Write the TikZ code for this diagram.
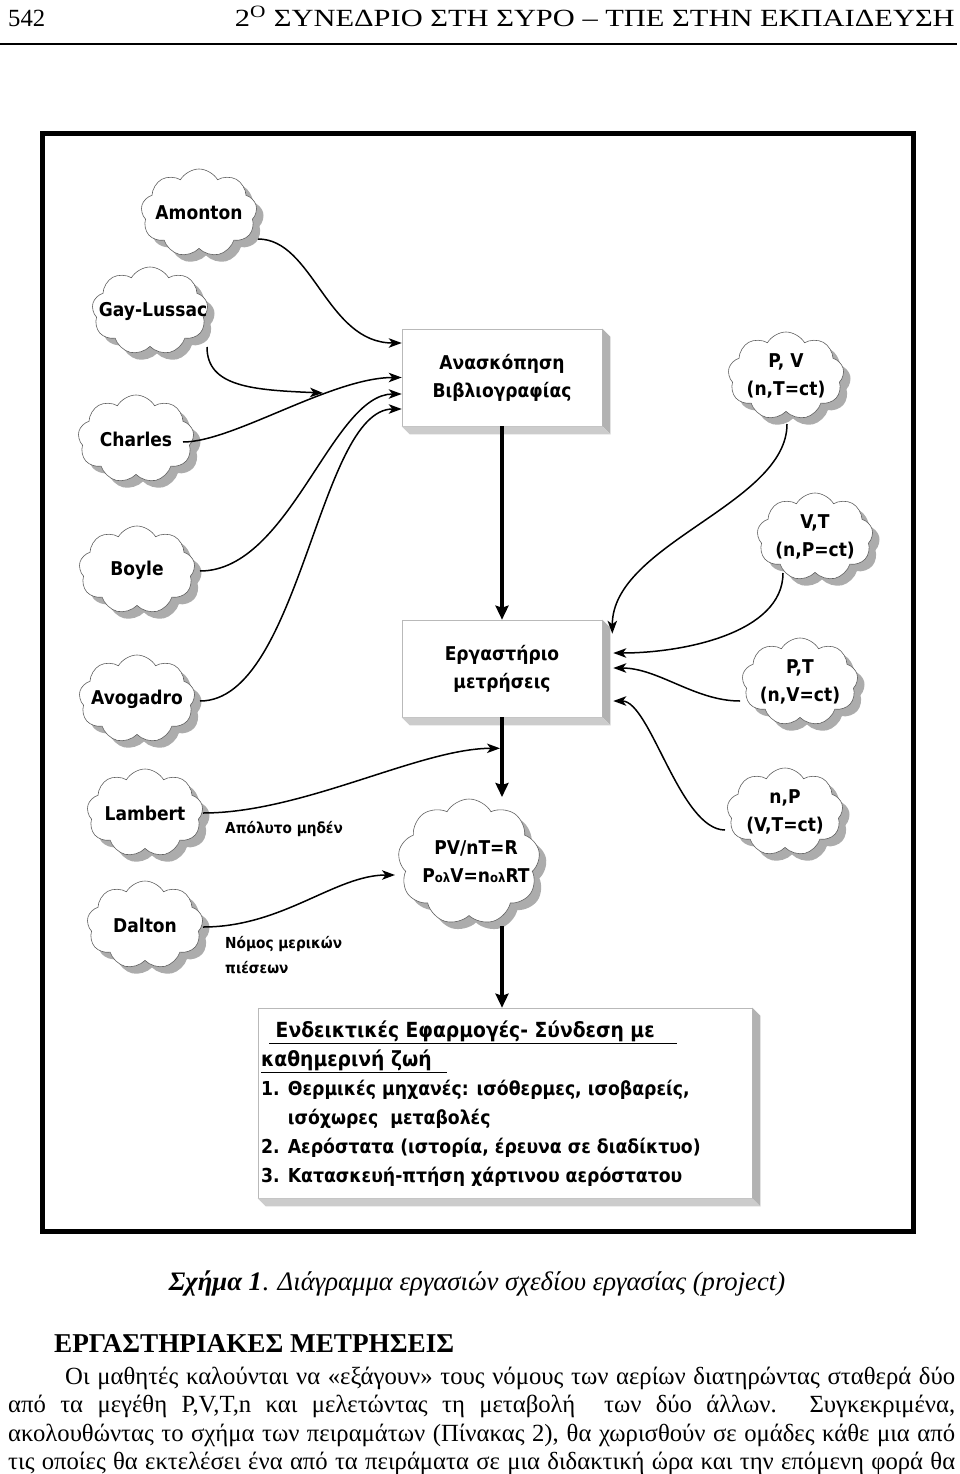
\documentclass[tikz,border=0pt]{standalone}
\usepackage{fontspec}
\setmainfont{Liberation Serif}
\newfontfamily\dvs{DejaVu Sans}[FakeStretch=0.9]
\usetikzlibrary{shapes.symbols,shadows,arrows.meta,calc}
\begin{document}
\begin{tikzpicture}[x=1pt,y=-1pt,
  cloudnode/.style={cloud, cloud puffs=9, cloud puff arc=120, aspect=1.3,
    draw=gray!75!black, line width=0.6pt, fill=white, inner sep=0pt,
    minimum width=116pt, minimum height=88pt,
    drop shadow={shadow xshift=7pt, shadow yshift=-7pt, fill=gray!65, opacity=1}},
  cloudtext/.style={font=\dvs\bfseries\fontsize{19}{28}\selectfont, align=center, inner sep=0pt, text=black},
  boxnode/.style={rectangle, draw=gray!55, line width=0.6pt, fill=white,
    minimum width=200pt, minimum height=97pt, inner sep=0pt,
    font=\dvs\bfseries\fontsize{19}{28}\selectfont, align=center},
  bevelR/.style={fill=gray!60},
  bevelB/.style={fill=gray!40},
  conn/.style={line width=1.5pt, -{Stealth[length=13pt,width=9.5pt,inset=3.5pt]}},
  bigconn/.style={line width=4pt, -{Stealth[length=14pt,width=13pt,inset=2pt]}},
  smalllabel/.style={font=\dvs\bfseries\fontsize{15.2}{25}\selectfont, align=left, inner sep=0pt, anchor=west},
  serif/.style={font=\fontsize{24.7}{28.5}\selectfont, inner sep=0pt}
]
\useasboundingbox (0,0) rectangle (960,1474);
\fill[white] (0,0) rectangle (960,1474);

% header
\node[serif, anchor=base west] (pnum) at (8,27) {542};
\node[serif, anchor=base east] (htitle) at (955,27) {\scalebox{1.233}[1]{2\textsuperscript{O} ΣΥΝΕΔΡΙΟ ΣΤΗ ΣΥΡΟ – ΤΠΕ ΣΤΗΝ ΕΚΠΑΙΔΕΥΣΗ}};
\draw[line width=1.6pt] (0,44) -- (957,44);

% frame
\draw[line width=5pt] (42,134) rectangle (913,1231);

% clouds left
\node[cloudnode, label={[cloudtext]center:Amonton}] (amonton) at (199,213) {};
\node[cloudnode, label={[cloudtext, xshift=3pt]center:Gay-Lussac}] (gaylussac) at (150,311) {};
\node[cloudnode, label={[cloudtext]center:Charles}] (charles) at (136,439) {};
\node[cloudnode, label={[cloudtext]center:Boyle}] (boyle) at (137,570) {};
\node[cloudnode, label={[cloudtext]center:Avogadro}] (avogadro) at (137,699) {};
\node[cloudnode, label={[cloudtext]center:Lambert}] (lambert) at (145,813) {};
\node[cloudnode, label={[cloudtext]center:Dalton}] (dalton) at (145,925) {};

% clouds right
\node[cloudnode, label={[cloudtext]center:{P, V\\(n,T=ct)}}] (pv) at (786,376) {};
\node[cloudnode, label={[cloudtext]center:{V,T\\(n,P=ct)}}] (vt) at (815,537) {};
\node[cloudnode, label={[cloudtext]center:{P,T\\(n,V=ct)}}] (pt) at (800,682) {};
\node[cloudnode, label={[cloudtext]center:{n,P\\(V,T=ct)}}] (np) at (785,812) {};

% central cloud
\node[cloudnode, minimum width=142pt, minimum height=126pt,
  label={[cloudtext, xshift=7pt]center:{PV/nT=R\\P{\fontsize{13}{13}\selectfont ολ}V=n{\fontsize{13}{13}\selectfont ολ}RT}}] (gaslaw) at (469,862) {};

% boxes
\node[boxnode] (review) at (502,377.5) {Ανασκόπηση\\Βιβλιογραφίας};
\fill[bevelR] (review.north east) -- ($(review.north east)+(8,8)$) -- ($(review.south east)+(8,8)$) -- (review.south east) -- cycle;
\fill[bevelB] (review.south west) -- (review.south east) -- ($(review.south east)+(8,8)$) -- ($(review.south west)+(8,8)$) -- cycle;

\node[boxnode] (lab) at (502,668.5) {Εργαστήριο\\μετρήσεις};
\fill[bevelR] (lab.north east) -- ($(lab.north east)+(8,8)$) -- ($(lab.south east)+(8,8)$) -- (lab.south east) -- cycle;
\fill[bevelB] (lab.south west) -- (lab.south east) -- ($(lab.south east)+(8,8)$) -- ($(lab.south west)+(8,8)$) -- cycle;

\node[boxnode, minimum width=494pt, minimum height=190pt] (apps) at (505,1103) {};
\fill[bevelR] (apps.north east) -- ($(apps.north east)+(8,8)$) -- ($(apps.south east)+(8,8)$) -- (apps.south east) -- cycle;
\fill[bevelB] (apps.south west) -- (apps.south east) -- ($(apps.south east)+(8,8)$) -- ($(apps.south west)+(8,8)$) -- cycle;
\node[anchor=north west, inner sep=0pt, align=left, font=\dvs\bfseries\fontsize{19.2}{29}\selectfont] (appstext) at (261,1021)
 {{\fontsize{20.8}{29}\selectfont\hspace*{8pt}\underline{\ Ενδεικτικές Εφαρμογές- Σύνδεση με\hspace{22pt}}}\\
  {\fontsize{20.8}{29}\selectfont\underline{καθημερινή ζωή\hspace{15pt}}}\\
  1. Θερμικές μηχανές: ισόθερμες, ισοβαρείς,\\
  \phantom{1. }ισόχωρες\ \ μεταβολές\\
  2. Αερόστατα (ιστορία, έρευνα σε διαδίκτυο)\\
  3. Κατασκευή-πτήση χάρτινου αερόστατου};

% small labels
\node[smalllabel] (lbl1) at (225,829) {Απόλυτο μηδέν};
\node[smalllabel] (lbl2) at (225,955) {Νόμος μερικών\\πιέσεων};

% connectors left
\coordinate (merge) at (323,393);
\draw[conn] ($(amonton)+(59,26)$) .. controls +(55,0) and +(-75,0) .. ($(review.west)+(0,-34.5)$);
\draw[conn] ($(gaylussac)+(57,36)$) .. controls +(0,40) and +(-70,-3) .. (merge);
\draw[conn] ($(charles)+(47,3)$) .. controls +(50,0) and +(-70,0) .. (review.west);
\draw[conn] ($(boyle)+(63,1)$) .. controls +(90,0) and +(-70,0) .. ($(review.west)+(0,16.5)$);
\draw[conn] ($(avogadro)+(63,2)$) .. controls +(100,0) and +(-83,0) .. ($(review.west)+(0,31.5)$);
\draw[conn] ($(lambert)+(58,0)$) .. controls +(100,0) and +(-80,0) .. ($(lab.south)+(-2,31)$);
\draw[conn] ($(dalton)+(58,2)$) .. controls +(80,0) and +(-60,0) .. ($(gaslaw)+(-74,13)$);

% vertical flow
\draw[bigconn] (review.south) -- (lab.north);
\draw[bigconn] (lab.south) -- ($(gaslaw)+(33,-65)$);
\draw[bigconn] ($(gaslaw)+(33,64)$) -- ($(apps.north)+(-3,0)$);

% connectors right
\draw[conn] ($(pv)+(1,48)$) .. controls +(0,80) and +(0,-90) .. ($(lab.north east)+(10,14)$);
\draw[conn] ($(vt)+(-32,36)$) .. controls +(0,60) and +(70,0) .. ($(lab.east)+(11,-15.5)$);
\draw[conn] ($(pt)+(-60,19)$) .. controls +(-45,0) and +(45,0) .. ($(lab.east)+(11,-0.5)$);
\draw[conn] ($(np)+(-60,18)$) .. controls +(-45,0) and +(37,0) .. ($(lab.east)+(11,32.5)$);

% caption and text
\node[font=\fontsize{26.7}{28.5}\selectfont, inner sep=0pt, anchor=base] (caption) at (477,1290) {\textbf{\textit{Σχήμα 1}}. \textit{Διάγραμμα εργασιών σχεδίου εργασίας (project)}};
\node[font=\fontsize{27.2}{28.5}\selectfont, inner sep=0pt, anchor=base west] (heading) at (54,1352) {\textbf{ΕΡΓΑΣΤΗΡΙΑΚΕΣ ΜΕΤΡΗΣΕΙΣ}};
\node[serif, anchor=base west] (line1) at (65,1384) {\makebox[890pt][s]{Οι μαθητές καλούνται να «εξάγουν» τους νόμους των αερίων διατηρώντας σταθερά δύο}};
\node[serif, anchor=base west] (line2) at (8,1412) {\makebox[947pt][s]{από τα μεγέθη P,V,T,n και μελετώντας τη μεταβολή\ \ των δύο άλλων. Συγκεκριμένα,}};
\node[serif, anchor=base west] (line3) at (8,1441) {\makebox[947pt][s]{ακολουθώντας το σχήμα των πειραμάτων (Πίνακας 2), θα χωρισθούν σε ομάδες κάθε μια από}};
\node[serif, anchor=base west] (line4) at (8,1469) {\makebox[947pt][s]{τις οποίες θα εκτελέσει ένα από τα πειράματα σε μια διδακτική ώρα και την επόμενη φορά θα}};
\end{tikzpicture}
\end{document}
